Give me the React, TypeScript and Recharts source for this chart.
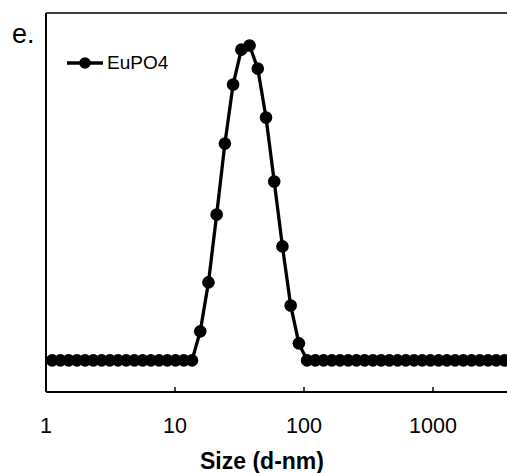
import React from 'react';
import { LineChart, Line, XAxis, YAxis, Legend } from 'recharts';

// DLS size bins (d-nm)
const sizes = [
  1.117, 1.294, 1.499, 1.736, 2.01, 2.328, 2.696, 3.122, 3.615, 4.187, 4.849, 5.615,
  6.503, 7.531, 8.721, 10.1, 11.7, 13.54, 15.69, 18.17, 21.04, 24.36, 28.21, 32.67,
  37.84, 43.82, 50.75, 58.77, 68.06, 78.82, 91.28, 105.7, 122.4, 141.8, 164.2, 190.1,
  220.2, 255.0, 295.3, 342.0, 396.1, 458.7, 531.2, 615.1, 712.4, 825.0, 955.4, 1106,
  1281, 1484, 1718, 1990, 2305, 2669, 3091, 3580, 4145, 4801, 5560, 6439, 7456, 8635,
  10000,
];

// EuPO4 distribution values
const eupo4 = [
  0, 0, 0, 0, 0, 0, 0, 0, 0, 0, 0, 0,
  0, 0, 0, 0, 0, 0, 1.84, 4.94, 9.24, 13.73, 17.47, 19.68,
  19.94, 18.48, 15.38, 11.33, 7.22, 3.48, 1.08, 0, 0, 0, 0, 0,
  0, 0, 0, 0, 0, 0, 0, 0, 0, 0, 0, 0,
  0, 0, 0, 0, 0, 0, 0, 0, 0, 0, 0, 0, 0, 0,
  0,
];

const xTicks = [1, 10, 100, 1000];
const seriesName = 'EuPO4';
const panelLabel = 'e.';
const xTitle = 'Size (d-nm)';

const data = sizes.map((s, i) => ({ size: s, v: eupo4[i] }));

const FONT = '"Liberation Sans", Arial, sans-serif';

const renderLegend = () => (
  <div style={{ display: 'flex', alignItems: 'center', fontFamily: FONT, fontSize: 19, color: '#000' }}>
    <svg width={38} height={14} style={{ display: 'block' }}>
      <line x1={0} y1={7} x2={36} y2={7} stroke="#000" strokeWidth={3.3} />
      <circle cx={18} cy={7} r={5.8} fill="#000" />
    </svg>
    <span style={{ marginLeft: 2 }}>{seriesName}</span>
  </div>
);

const XTick = (props: any) => {
  const { x, y, payload } = props;
  return (
    <g>
      <line x1={x} y1={y} x2={x} y2={y - 5} stroke="#000" strokeWidth={1.5} />
      <text x={x} y={y + 41} textAnchor="middle" fontFamily={FONT} fontSize={21.5} fill="#000">
        {payload.value}
      </text>
    </g>
  );
};

const XTitle = (props: any) => {
  const vb = props.viewBox || {};
  return (
    <text
      x={vb.x + vb.width * 0.4186}
      y={vb.y + 77}
      textAnchor="middle"
      fontFamily={FONT}
      fontSize={23}
      fontWeight="bold"
      fill="#000"
    >
      {xTitle}
    </text>
  );
};

export default function App() {
  return (
    <div style={{ position: 'absolute', left: 0, top: 0, width: 507, height: 473, overflow: 'hidden', background: '#fff' }}>
      <div
        style={{
          position: 'absolute',
          left: 12,
          top: 21,
          fontFamily: FONT,
          fontSize: 27,
          lineHeight: '26px',
          color: '#000',
        }}
      >
        {panelLabel}
      </div>
      <LineChart
        width={600}
        height={473}
        data={data}
        margin={{ top: 12, right: 38, bottom: 0, left: 45 }}
      >
        <XAxis
          dataKey="size"
          type="number"
          scale="log"
          domain={[1, 10000]}
          allowDataOverflow
          ticks={xTicks}
          interval={0}
          height={81}
          tickSize={0}
          tickMargin={0}
          tickLine={false}
          axisLine={{ stroke: '#000', strokeWidth: 2 }}
          tick={<XTick />}
          label={<XTitle />}
        />
        <XAxis
          xAxisId="top"
          dataKey="size"
          type="number"
          scale="log"
          domain={[1, 10000]}
          allowDataOverflow
          orientation="top"
          height={1}
          tick={false}
          tickLine={false}
          axisLine={{ stroke: '#000', strokeWidth: 1.5 }}
        />
        <YAxis
          type="number"
          domain={[-2, 22]}
          allowDataOverflow
          width={1}
          tick={false}
          tickLine={false}
          axisLine={{ stroke: '#000', strokeWidth: 2 }}
        />
        <Legend
          layout="horizontal"
          verticalAlign="middle"
          align="center"
          content={renderLegend}
          wrapperStyle={{ left: 67, top: 52, width: 'auto', height: 'auto' }}
        />
        <Line
          type="linear"
          dataKey="v"
          name={seriesName}
          stroke="#000"
          strokeWidth={3.3}
          dot={{ r: 6.3, fill: '#000', stroke: 'none' }}
          isAnimationActive={false}
        />
      </LineChart>
    </div>
  );
}
